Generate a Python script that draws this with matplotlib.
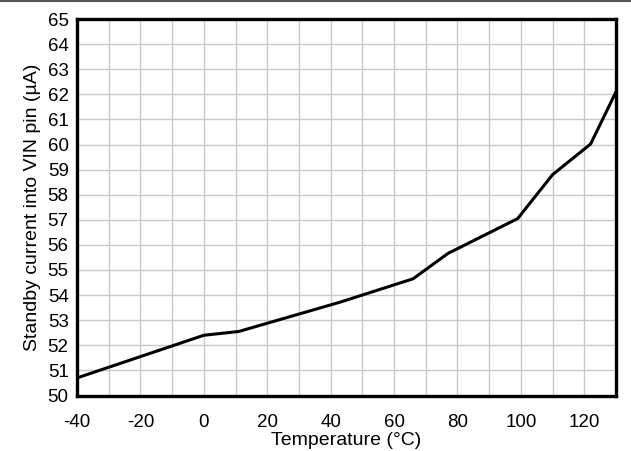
import matplotlib
matplotlib.use('Agg')
from matplotlib import pyplot as plt
from matplotlib.lines import Line2D
import numpy as np

# Standby current vs. temperature
temperature_c = [-40, 0, 11, 43, 66, 77, 99, 110, 122, 130]
standby_ua = [50.7, 52.4, 52.55, 53.72, 54.65, 55.66, 57.05, 58.8, 60.02, 62.1]

x_ticks = np.arange(-40, 121, 20)
y_ticks = np.arange(50, 66, 1)

plt.rcParams['font.family'] = ['Liberation Sans', 'DejaVu Sans']
plt.rcParams['axes.unicode_minus'] = False

fig = plt.figure(figsize=(6.31, 4.51), dpi=100)
ax = fig.add_axes([77 / 631, 1 - 395.5 / 451, (616 - 77) / 631, (395.5 - 19) / 451])

ax.plot(temperature_c, standby_ua, color='black', linewidth=2.2, solid_joinstyle='miter', zorder=3)

ax.set_xlim(-40, 130)
ax.set_ylim(50, 65)
ax.set_xticks(x_ticks)
ax.set_yticks(y_ticks)
ax.set_xticks(np.arange(-40, 131, 10), minor=True)

ax.grid(True, which='both', color='#c8c8c8', linewidth=1.0, zorder=0)
ax.tick_params(which='both', length=0, labelsize=13.5)
ax.tick_params(axis='x', pad=13)
ax.tick_params(axis='y', pad=6)

for spine in ax.spines.values():
    spine.set_linewidth(2.4)
    spine.set_zorder(4)

ax.set_xlabel('Temperature (°C)', fontsize=14, labelpad=1)
ax.set_ylabel('Standby current into VIN pin (µA)', fontsize=14, labelpad=5)

# thin rule along the top edge of the figure
fig.add_artist(Line2D([0, 1], [0.998, 0.998], transform=fig.transFigure,
                      color='#555555', linewidth=1.5))

fig.savefig('out.png', dpi=100)
